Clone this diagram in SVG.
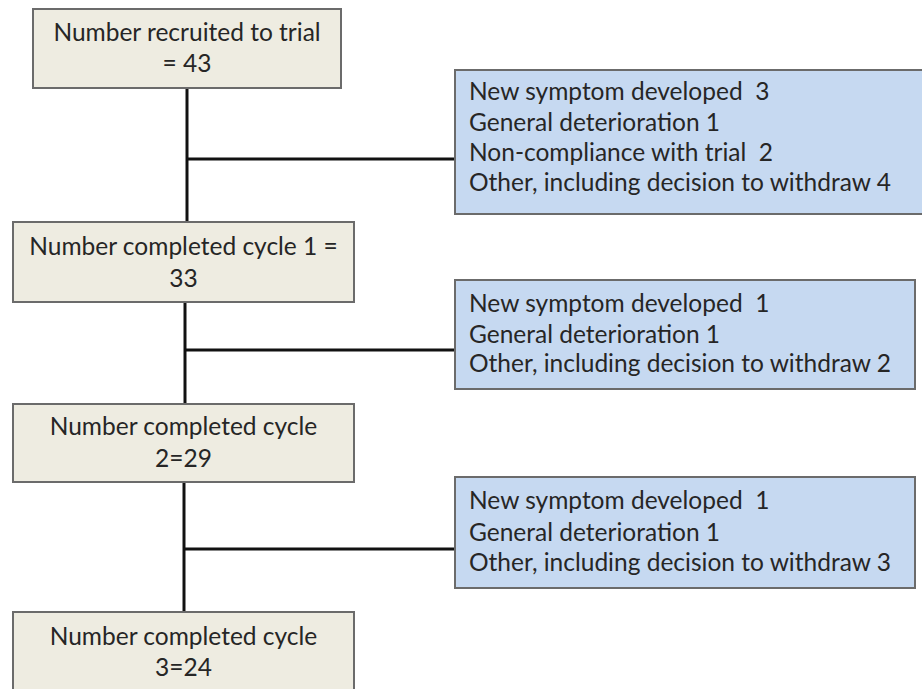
<svg xmlns="http://www.w3.org/2000/svg" width="922" height="689" viewBox="0 0 922 689">
<style>
.main rect{fill:#EEECE1;stroke:#6b6b6b;stroke-width:2}
.side rect{fill:#C6D9F1;stroke:#6b6b6b;stroke-width:2}
text{font-family:Lato,"Liberation Sans",sans-serif;font-size:24.5px;fill:#262626;white-space:pre}
.main text{text-anchor:middle}
.conn line{stroke:#111;stroke-width:3}
</style>
<rect width="922" height="689" fill="#fff"/>
<g class="conn" id="connectors">
<line x1="187" y1="88" x2="187" y2="222"/>
<line x1="186" y1="159" x2="455" y2="159"/>
<line x1="185" y1="302" x2="185" y2="404"/>
<line x1="184" y1="350" x2="455" y2="350"/>
<line x1="184" y1="482" x2="184" y2="612"/>
<line x1="183" y1="549" x2="455" y2="549"/>
</g>
<g class="main" id="n1">
<rect x="33" y="9" width="308" height="79"/>
<text x="187" y="41">Number recruited to trial</text>
<text x="187" y="72">= 43</text>
</g>
<g class="main" id="n2">
<rect x="13" y="222" width="341" height="80"/>
<text x="183.5" y="255">Number completed cycle 1 =</text>
<text x="183.5" y="287">33</text>
</g>
<g class="main" id="n3">
<rect x="13" y="404" width="341" height="78"/>
<text x="183.5" y="435">Number completed cycle</text>
<text x="183.5" y="467">2=29</text>
</g>
<g class="main" id="n4">
<rect x="13" y="612" width="341" height="90"/>
<text x="183.5" y="645">Number completed cycle</text>
<text x="183.5" y="676">3=24</text>
</g>
<g class="side" id="s1">
<rect x="455" y="70" width="480" height="144"/>
<text x="469" y="100" xml:space="preserve">New symptom developed  3</text>
<text x="469" y="131">General deterioration 1</text>
<text x="469" y="161" xml:space="preserve">Non-compliance with trial  2</text>
<text x="469" y="191">Other, including decision to withdraw 4</text>
</g>
<g class="side" id="s2">
<rect x="455" y="280" width="460" height="109"/>
<text x="469" y="312" xml:space="preserve">New symptom developed  1</text>
<text x="469" y="343">General deterioration 1</text>
<text x="469" y="372">Other, including decision to withdraw 2</text>
</g>
<g class="side" id="s3">
<rect x="455" y="477" width="460" height="111"/>
<text x="469" y="509" xml:space="preserve">New symptom developed  1</text>
<text x="469" y="541">General deterioration 1</text>
<text x="469" y="571">Other, including decision to withdraw 3</text>
</g>
</svg>
